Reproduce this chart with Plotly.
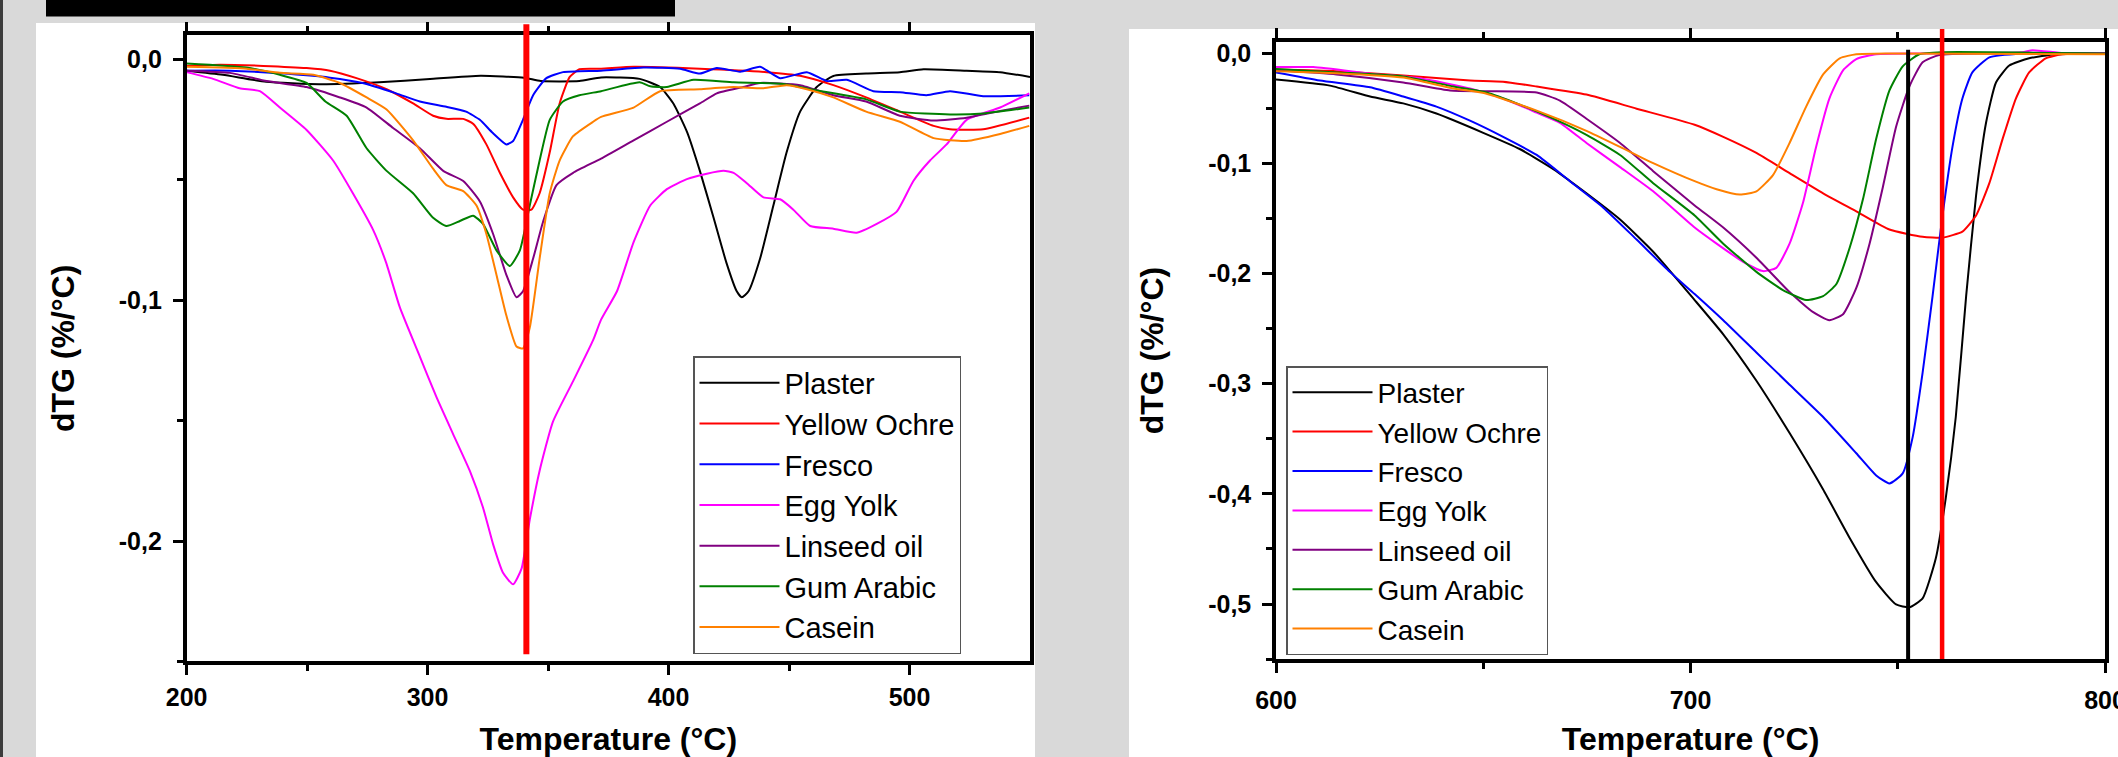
import plotly.graph_objects as go

# ---------------- data ----------------
series_names = ["Plaster", "Yellow Ochre", "Fresco", "Egg Yolk", "Linseed oil", "Gum Arabic", "Casein"]
series_colors = ["#000000", "#ff0000", "#0000ff", "#ff00ff", "#800080", "#008000", "#ff8000"]

# left panel (200-550 °C)
plaster_x_l = [200, 215, 233, 255, 280, 301, 322, 340, 347, 363, 372, 388, 396.5, 402, 407.7, 413, 418.7, 424, 428.3, 430.4, 433.2, 438, 443.5, 449, 454.6, 461.5, 468.4, 482, 496, 505.8, 523.7, 537.6, 550]
plaster_y_l = [-0.0047, -0.0064, -0.0093, -0.0103, -0.0095, -0.0081, -0.0068, -0.0076, -0.009, -0.009, -0.0075, -0.0081, -0.0115, -0.0183, -0.0302, -0.0463, -0.0658, -0.0844, -0.0963, -0.0988, -0.0963, -0.0827, -0.0607, -0.0386, -0.0217, -0.0115, -0.0069, -0.0059, -0.0053, -0.0041, -0.0047, -0.0053, -0.0073]

ochre_x_l = [200, 213.8, 231.8, 249.8, 259.5, 270.5, 283, 294, 302.3, 307.8, 314.8, 319, 324.4, 330, 335.5, 339.6, 343.1, 346.5, 350.7, 354.8, 359, 363, 372, 385.5, 413, 440.8, 454.6, 468.4, 482, 496, 510, 516.8, 530.6, 549.7]
ochre_y_l = [-0.0027, -0.0022, -0.0027, -0.0036, -0.0047, -0.0078, -0.0124, -0.0183, -0.0234, -0.0247, -0.0247, -0.0268, -0.0353, -0.0471, -0.0573, -0.0624, -0.0624, -0.0556, -0.0386, -0.0183, -0.0073, -0.0041, -0.0039, -0.0031, -0.0039, -0.0053, -0.0068, -0.0107, -0.0158, -0.0217, -0.0276, -0.029, -0.029, -0.0242]

fresco_x_l = [200, 218, 238.7, 259.5, 273, 287, 296.8, 307.8, 316, 321.7, 327, 332.7, 335.5, 339.6, 343.8, 349.3, 356.2, 372, 389.6, 404.8, 413, 420, 429.7, 438, 446.3, 457.4, 465.7, 474, 485, 496, 507, 516.8, 530.6, 549.7]
fresco_y_l = [-0.0047, -0.0047, -0.0058, -0.0076, -0.0098, -0.0141, -0.0175, -0.0197, -0.0217, -0.0251, -0.0305, -0.0353, -0.0339, -0.0251, -0.0149, -0.0078, -0.0053, -0.0047, -0.0034, -0.0039, -0.0059, -0.0036, -0.0051, -0.0031, -0.0078, -0.0053, -0.009, -0.0085, -0.0132, -0.0136, -0.0149, -0.0132, -0.0153, -0.0149]

egg_x_l = [200, 211, 222, 230.4, 238.7, 249.8, 260.8, 269, 277.4, 282.8, 288.5, 296.8, 303.7, 310.6, 317.5, 323, 327.2, 331.3, 335.5, 339, 342.4, 346.5, 352, 360.4, 368.7, 372, 378.6, 385.5, 392.4, 399.3, 407.6, 415.9, 422.8, 427, 432.5, 439.4, 446.3, 451.8, 458.8, 468.4, 478, 486.4, 494.7, 501.6, 508.5, 515.4, 523.7, 537.6, 549.7]
egg_y_l = [-0.0053, -0.0081, -0.012, -0.0132, -0.02, -0.0293, -0.042, -0.0556, -0.0708, -0.0844, -0.103, -0.1234, -0.1403, -0.1556, -0.1708, -0.1861, -0.2014, -0.2132, -0.218, -0.2115, -0.1912, -0.1708, -0.1505, -0.1336, -0.1166, -0.1081, -0.0963, -0.0759, -0.0607, -0.0539, -0.0497, -0.0475, -0.0463, -0.0471, -0.0514, -0.0573, -0.0581, -0.0624, -0.0692, -0.0703, -0.072, -0.0683, -0.0632, -0.0505, -0.042, -0.0353, -0.0251, -0.02, -0.0141]

linseed_x_l = [200, 218, 233.2, 249.8, 263.6, 274.7, 285.7, 296.8, 306.5, 314.8, 321.7, 327.2, 332.7, 336.9, 339.6, 343.8, 347.9, 353.5, 360.4, 372, 385.5, 399.3, 413, 420, 431, 438, 454.6, 468.4, 482, 496, 510, 523.7, 537.6, 549.7]
linseed_y_l = [-0.0047, -0.0056, -0.009, -0.0115, -0.0158, -0.02, -0.0285, -0.0369, -0.0463, -0.0505, -0.059, -0.0725, -0.0895, -0.0988, -0.0963, -0.0827, -0.0675, -0.0522, -0.0471, -0.0412, -0.0336, -0.0259, -0.0183, -0.0141, -0.0115, -0.0098, -0.0107, -0.0149, -0.0175, -0.0234, -0.0254, -0.0242, -0.0214, -0.0192]

gum_x_l = [200, 224.9, 238.7, 249.8, 257.6, 266.4, 274.7, 283, 294, 302.3, 307.8, 313.4, 318.9, 323, 328.6, 334.1, 338.3, 342.4, 346.5, 350.7, 356.2, 363, 372, 388, 392.4, 399.3, 410.4, 427, 447.7, 461.5, 482, 496, 516.8, 530.6, 549.7]
gum_y_l = [-0.0017, -0.0034, -0.0064, -0.0098, -0.0175, -0.0234, -0.0369, -0.0463, -0.0556, -0.0658, -0.0692, -0.0671, -0.0649, -0.0683, -0.0793, -0.0858, -0.0793, -0.0607, -0.042, -0.0251, -0.0175, -0.0149, -0.0132, -0.0095, -0.0112, -0.0115, -0.0085, -0.0095, -0.0102, -0.0129, -0.0166, -0.0217, -0.0229, -0.0225, -0.02]

casein_x_l = [200, 224.9, 238.7, 252.6, 263.6, 274.7, 283, 294, 302.3, 307.8, 314.8, 320.3, 324.4, 328.6, 332.7, 336.9, 339.6, 342.4, 346.5, 350.7, 354.8, 360.4, 368.7, 372, 385.5, 396.5, 413, 427, 439.4, 449, 457.4, 468.4, 482, 496, 510, 523.7, 537.6, 549.7]
casein_y_l = [-0.0031, -0.0039, -0.0056, -0.0064, -0.0098, -0.0158, -0.0208, -0.0336, -0.0454, -0.0522, -0.0547, -0.0607, -0.0725, -0.0895, -0.1064, -0.1192, -0.12, -0.1115, -0.0827, -0.0556, -0.042, -0.0319, -0.0259, -0.0239, -0.02, -0.0132, -0.0124, -0.0115, -0.012, -0.0107, -0.0124, -0.0158, -0.0217, -0.0259, -0.0327, -0.0339, -0.031, -0.0276]

# right panel (600-800 °C)
plaster_x_r = [600, 613, 622.7, 630.7, 638.7, 650, 658.8, 666.9, 674.9, 683, 691, 701, 707.9, 715.9, 723.9, 732, 738.4, 744.8, 749.6, 752.8, 756, 759.2, 761.6, 764, 766.5, 768.9, 771.3, 773.7, 776.9, 781.7, 788.1, 800]
plaster_y_r = [-0.0241, -0.0296, -0.0395, -0.0457, -0.0549, -0.0724, -0.0871, -0.1053, -0.1273, -0.1511, -0.1803, -0.2242, -0.2553, -0.2974, -0.3449, -0.3961, -0.44, -0.4802, -0.5004, -0.5029, -0.4949, -0.4583, -0.4034, -0.3303, -0.2206, -0.1291, -0.0633, -0.0267, -0.0113, -0.0048, -0.0011, -0.0004]

ochre_x_r = [600, 614.6, 630.7, 646.8, 654.8, 662.9, 674.9, 687, 701, 707.9, 715.9, 723.9, 732, 740, 748, 756, 760.8, 765.6, 768.9, 772.1, 775.3, 778.5, 781.7, 785.7, 789.7, 800]
ochre_y_r = [-0.015, -0.0165, -0.0205, -0.0249, -0.026, -0.0304, -0.0377, -0.0505, -0.0651, -0.0761, -0.0907, -0.109, -0.1273, -0.1437, -0.1602, -0.1668, -0.1675, -0.162, -0.1474, -0.1181, -0.0779, -0.0413, -0.0176, -0.0048, -0.0011, -0.0004]

fresco_x_r = [600, 610.6, 622.7, 630.7, 638.7, 646.8, 654.8, 662.9, 670.9, 678.9, 687, 695, 701, 707.9, 715.9, 723.9, 732, 740, 744.8, 748, 751.2, 753.6, 756, 758.4, 760.8, 763.2, 765.6, 768, 772.1, 780.1, 800]
fresco_y_r = [-0.0176, -0.0249, -0.0311, -0.0395, -0.0486, -0.0614, -0.0761, -0.0925, -0.1163, -0.1401, -0.1693, -0.1986, -0.2187, -0.2425, -0.2718, -0.301, -0.3303, -0.3632, -0.3833, -0.3906, -0.3815, -0.3486, -0.29, -0.2206, -0.1474, -0.0852, -0.0413, -0.0176, -0.004, -0.0004, 0.0]

egg_x_r = [600, 609, 622.7, 634.7, 646.8, 654.8, 662.9, 668.5, 674.9, 683, 691, 701, 706.3, 712.7, 717.5, 720.7, 723.9, 727.1, 730.3, 733.5, 736.8, 740, 744.8, 756, 770, 780.1, 782.5, 790, 800]
egg_y_r = [-0.0128, -0.0128, -0.0187, -0.023, -0.0322, -0.0413, -0.0541, -0.0633, -0.0816, -0.1035, -0.1255, -0.1584, -0.173, -0.1895, -0.1979, -0.195, -0.173, -0.1364, -0.0852, -0.0413, -0.0157, -0.0055, -0.0011, -0.0004, 0.0, 0.0007, 0.0026, 0.0, 0.0]

linseed_x_r = [600, 614.6, 630.7, 642, 650.8, 662.9, 668.5, 674.9, 683, 691, 701, 707.9, 715.9, 723.9, 729.6, 733.5, 736.8, 740, 743.2, 746.4, 749.6, 752.8, 756, 760, 772, 800]
linseed_y_r = [-0.0157, -0.0194, -0.0267, -0.034, -0.0347, -0.0358, -0.0432, -0.0596, -0.0816, -0.1072, -0.1383, -0.1584, -0.1858, -0.2169, -0.2352, -0.2425, -0.237, -0.2132, -0.173, -0.1218, -0.0669, -0.0304, -0.0084, -0.0018, -0.0004, -0.0004]

gum_x_r = [600, 614.6, 630.7, 642.8, 650.8, 658.8, 666.9, 674.9, 683, 691, 701, 707.9, 715.9, 722.3, 727.9, 732, 735.2, 738.4, 741.6, 744.8, 748, 751.2, 755.2, 760.8, 800]
gum_y_r = [-0.0146, -0.0176, -0.0212, -0.0304, -0.0358, -0.0468, -0.0596, -0.0743, -0.0925, -0.1181, -0.1474, -0.173, -0.1986, -0.2151, -0.2242, -0.2206, -0.2096, -0.1767, -0.1328, -0.0779, -0.034, -0.0121, -0.0011, 0.0007, -0.0004]

casein_x_r = [600, 614.6, 630.7, 642.8, 650.8, 662.9, 674.9, 683, 691, 701, 706.3, 711.9, 715.9, 719.9, 723.9, 727.9, 732, 736, 740, 748, 800]
casein_y_r = [-0.0165, -0.0183, -0.0223, -0.0322, -0.0369, -0.0523, -0.0706, -0.0852, -0.0999, -0.1163, -0.1236, -0.1284, -0.1255, -0.1108, -0.0816, -0.0486, -0.0194, -0.0048, -0.0011, -0.0004, -0.0011]

# reference temperatures marked by vertical lines
left_red_T = 341
right_black_T = 752.5
right_red_T = 760.7
left_red_bottom = -0.247
right_black_top = 0.003

# axes / ticks
xl_range = [200, 550]
yl_range = [-0.25, 0.01]
xr_range = [600, 800]
yr_range = [-0.55, 0.01]
xl_tickvals = [200, 300, 400, 500]
xl_ticktext = ["200", "300", "400", "500"]
xl_minor = [250, 350, 450]
yl_tickvals = [0.0, -0.1, -0.2]
yl_ticktext = ["0,0", "-0,1", "-0,2"]
yl_minor = [-0.05, -0.15, -0.25]
xr_tickvals = [600, 700, 800]
xr_ticktext = ["600", "700", "800"]
xr_minor = [650, 750]
yr_tickvals = [0.0, -0.1, -0.2, -0.3, -0.4, -0.5]
yr_ticktext = ["0,0", "-0,1", "-0,2", "-0,3", "-0,4", "-0,5"]
yr_minor = [-0.05, -0.15, -0.25, -0.35, -0.45, -0.55]

x_title = "Temperature (°C)"
y_title = "dTG (%/°C)"

# ---------------- figure ----------------
W, H = 2118, 757
FONT = "Liberation Sans, Arial, sans-serif"

left_series = [(plaster_x_l, plaster_y_l), (ochre_x_l, ochre_y_l), (fresco_x_l, fresco_y_l),
               (egg_x_l, egg_y_l), (linseed_x_l, linseed_y_l), (gum_x_l, gum_y_l), (casein_x_l, casein_y_l)]
right_series = [(plaster_x_r, plaster_y_r), (ochre_x_r, ochre_y_r), (fresco_x_r, fresco_y_r),
                (egg_x_r, egg_y_r), (linseed_x_r, linseed_y_r), (gum_x_r, gum_y_r), (casein_x_r, casein_y_r)]

fig = go.Figure()
for name, color, (xs, ys) in zip(series_names, series_colors, left_series):
    fig.add_trace(go.Scatter(x=xs, y=ys, mode="lines", name=name, xaxis="x", yaxis="y",
                             line=dict(color=color, width=2, shape="spline", smoothing=0.5),
                             legend="legend"))
for name, color, (xs, ys) in zip(series_names, series_colors, right_series):
    fig.add_trace(go.Scatter(x=xs, y=ys, mode="lines", name=name, xaxis="x2", yaxis="y2",
                             line=dict(color=color, width=2, shape="spline", smoothing=0.5),
                             legend="legend2"))

# pixel geometry of the two plot areas
L_left, L_right, L_top, L_bot = 186.6, 1030.0, 35.3, 661.4
R_left, R_right, R_top, R_bot = 1276.0, 2105.0, 42.0, 659.1


def px_x(p):
    return p / W


def px_y(p):
    return 1 - p / H


tick_font = dict(family=FONT, size=25, color="black", weight="bold")
title_font = dict(family=FONT, size=32, color="black", weight="bold")


def axis(rng, tv, tt, minor_vals, domain, anchor, mirror, title, standoff, label_gap=6):
    return dict(range=rng, domain=domain, anchor=anchor, showline=True, linecolor="black", linewidth=3.5,
                mirror=mirror, ticks="outside", ticklen=10, tickwidth=3, tickcolor="black",
                tickmode="array", tickvals=tv, ticktext=tt, tickfont=tick_font, ticklabelstandoff=label_gap,
                ticklabeloverflow="allow",
                minor=dict(tickmode="array", tickvals=minor_vals, ticks="outside", ticklen=6, tickwidth=3,
                           tickcolor="black"),
                showgrid=False, zeroline=False, fixedrange=True, automargin=False,
                title=dict(text=title, font=title_font, standoff=standoff))


legend_common = dict(xanchor="left", yanchor="top", bgcolor="white", bordercolor="#555555", borderwidth=1.5,
                     itemwidth=80, tracegroupgap=0)

layout = dict(
    width=W, height=H, autosize=False,
    margin=dict(l=0, r=0, t=0, b=0, pad=0, autoexpand=False),
    paper_bgcolor="#d9d9d9",
    plot_bgcolor="white",
    font=dict(family=FONT, color="black"),
    xaxis=axis(xl_range, xl_tickvals, xl_ticktext, xl_minor, [px_x(L_left), px_x(L_right)], "y", "ticks",
               x_title, 22, label_gap=1),
    yaxis=axis(yl_range, yl_tickvals, yl_ticktext, yl_minor, [px_y(L_bot), px_y(L_top)], "x", True, y_title, 36),
    xaxis2=axis(xr_range, xr_tickvals, xr_ticktext, xr_minor, [px_x(R_left), px_x(R_right)], "y2", "ticks",
                x_title, 18),
    yaxis2=axis(yr_range, yr_tickvals, yr_ticktext, yr_minor, [px_y(R_bot), px_y(R_top)], "x2", True, y_title, 36),
    legend=dict(x=px_x(693), y=px_y(356), font=dict(family=FONT, size=29, color="black"), **legend_common),
    legend2=dict(x=px_x(1286), y=px_y(366), font=dict(family=FONT, size=28, color="black"), **legend_common),
    showlegend=True,
)

shapes = [
    # white panels
    dict(type="rect", xref="paper", yref="paper", x0=px_x(36), x1=px_x(1035), y0=0, y1=px_y(23),
         fillcolor="white", line=dict(width=0), layer="below"),
    dict(type="rect", xref="paper", yref="paper", x0=px_x(1129), x1=1, y0=0, y1=px_y(29),
         fillcolor="white", line=dict(width=0), layer="below"),
    # black bar at the top left
    dict(type="rect", xref="paper", yref="paper", x0=px_x(46), x1=px_x(675), y0=px_y(16.5), y1=1,
         fillcolor="black", line=dict(width=0), layer="below"),
    # dark edge on the left border
    dict(type="rect", xref="paper", yref="paper", x0=0, x1=px_x(3), y0=0, y1=1,
         fillcolor="#3c3c3c", line=dict(width=0), layer="below"),
]

# vertical reference lines (y given relative to the axis domain so they may run past the frame)
lh = L_bot - L_top
rh = R_bot - R_top
shapes.append(dict(type="line", xref="x", yref="y domain", x0=left_red_T, x1=left_red_T,
                   y0=(left_red_bottom - yl_range[0]) / (yl_range[1] - yl_range[0]), y1=1 + 11 / lh,
                   line=dict(color="#ff0000", width=6), layer="above"))
shapes.append(dict(type="line", xref="x2", yref="y2", x0=right_black_T, x1=right_black_T,
                   y0=yr_range[0], y1=right_black_top,
                   line=dict(color="black", width=4), layer="above"))
shapes.append(dict(type="line", xref="x2", yref="y2 domain", x0=right_red_T, x1=right_red_T,
                   y0=0, y1=1 + 13 / rh,
                   line=dict(color="#ff0000", width=4.5), layer="above"))
layout["shapes"] = shapes

fig.update_layout(**layout)

# pin the figure to the top-left corner of the window, without page margins or scrollbars
page_fix = ("document.documentElement.style.margin='0';document.body.style.margin='0';"
            "document.body.style.padding='0';document.body.style.overflow='hidden';"
            "document.documentElement.style.overflow='hidden';"
            "var d=document.getElementById('{plot_id}');d.style.position='absolute';"
            "d.style.left='0px';d.style.top='0px';")
fig.write_html("out.html", post_script=page_fix,
               config={"responsive": False, "displayModeBar": False})
